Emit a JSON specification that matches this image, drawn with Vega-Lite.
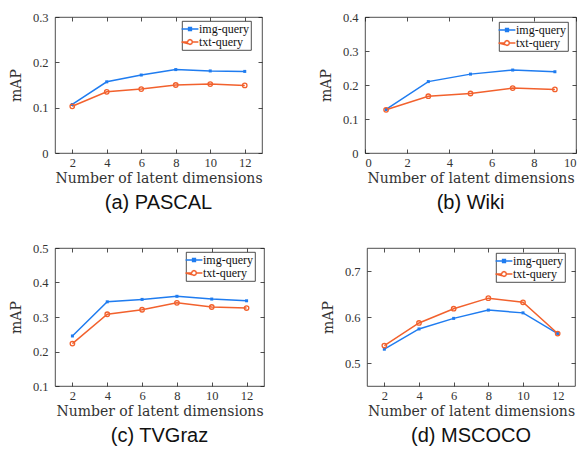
{
  "$schema": "https://vega.github.io/schema/vega-lite/v6.json",
  "background": "white",
  "padding": {"left": 8, "top": 10, "right": 2, "bottom": 2},
  "datasets": {
    "all": [
      {"panel": "a", "dim": 2, "query": "img-query", "map": 0.107},
      {"panel": "a", "dim": 4, "query": "img-query", "map": 0.157},
      {"panel": "a", "dim": 6, "query": "img-query", "map": 0.172},
      {"panel": "a", "dim": 8, "query": "img-query", "map": 0.184},
      {"panel": "a", "dim": 10, "query": "img-query", "map": 0.181},
      {"panel": "a", "dim": 12, "query": "img-query", "map": 0.180},
      {"panel": "a", "dim": 2, "query": "txt-query", "map": 0.103},
      {"panel": "a", "dim": 4, "query": "txt-query", "map": 0.135},
      {"panel": "a", "dim": 6, "query": "txt-query", "map": 0.141},
      {"panel": "a", "dim": 8, "query": "txt-query", "map": 0.150},
      {"panel": "a", "dim": 10, "query": "txt-query", "map": 0.152},
      {"panel": "a", "dim": 12, "query": "txt-query", "map": 0.149},
      {"panel": "b", "dim": 1, "query": "img-query", "map": 0.128},
      {"panel": "b", "dim": 3, "query": "img-query", "map": 0.210},
      {"panel": "b", "dim": 5, "query": "img-query", "map": 0.232},
      {"panel": "b", "dim": 7, "query": "img-query", "map": 0.244},
      {"panel": "b", "dim": 9, "query": "img-query", "map": 0.239},
      {"panel": "b", "dim": 1, "query": "txt-query", "map": 0.127},
      {"panel": "b", "dim": 3, "query": "txt-query", "map": 0.167},
      {"panel": "b", "dim": 5, "query": "txt-query", "map": 0.175},
      {"panel": "b", "dim": 7, "query": "txt-query", "map": 0.191},
      {"panel": "b", "dim": 9, "query": "txt-query", "map": 0.187},
      {"panel": "c", "dim": 2, "query": "img-query", "map": 0.245},
      {"panel": "c", "dim": 4, "query": "img-query", "map": 0.344},
      {"panel": "c", "dim": 6, "query": "img-query", "map": 0.351},
      {"panel": "c", "dim": 8, "query": "img-query", "map": 0.360},
      {"panel": "c", "dim": 10, "query": "img-query", "map": 0.352},
      {"panel": "c", "dim": 12, "query": "img-query", "map": 0.347},
      {"panel": "c", "dim": 2, "query": "txt-query", "map": 0.223},
      {"panel": "c", "dim": 4, "query": "txt-query", "map": 0.308},
      {"panel": "c", "dim": 6, "query": "txt-query", "map": 0.321},
      {"panel": "c", "dim": 8, "query": "txt-query", "map": 0.341},
      {"panel": "c", "dim": 10, "query": "txt-query", "map": 0.329},
      {"panel": "c", "dim": 12, "query": "txt-query", "map": 0.326},
      {"panel": "d", "dim": 2, "query": "img-query", "map": 0.530},
      {"panel": "d", "dim": 4, "query": "img-query", "map": 0.574},
      {"panel": "d", "dim": 6, "query": "img-query", "map": 0.597},
      {"panel": "d", "dim": 8, "query": "img-query", "map": 0.615},
      {"panel": "d", "dim": 10, "query": "img-query", "map": 0.609},
      {"panel": "d", "dim": 12, "query": "img-query", "map": 0.564},
      {"panel": "d", "dim": 2, "query": "txt-query", "map": 0.538},
      {"panel": "d", "dim": 4, "query": "txt-query", "map": 0.587},
      {"panel": "d", "dim": 6, "query": "txt-query", "map": 0.618},
      {"panel": "d", "dim": 8, "query": "txt-query", "map": 0.641},
      {"panel": "d", "dim": 10, "query": "txt-query", "map": 0.632},
      {"panel": "d", "dim": 12, "query": "txt-query", "map": 0.564}
    ]
  },
  "data": {"name": "all"},
  "spacing": 28,
  "vconcat": [
    {
      "spacing": 55,
      "resolve": {"scale": {"color": "independent", "x": "independent", "y": "independent"}, "legend": {"color": "independent"}},
      "hconcat": [
        {
          "width": 207, "height": 136,
          "title": {"text": "(a) PASCAL", "orient": "bottom"},
          "transform": [{"filter": "datum.panel == 'a'"}],
          "layer": [
            {"mark": {"type": "line", "strokeWidth": 1.5},
             "encoding": {
               "x": {"field": "dim", "type": "quantitative", "scale": {"domain": [1, 13], "nice": false}, "axis": {"values": [2, 4, 6, 8, 10, 12], "title": "Number of latent dimensions"}},
               "y": {"field": "map", "type": "quantitative", "scale": {"domain": [0, 0.3], "nice": false, "zero": false}, "axis": {"values": [0, 0.1, 0.2, 0.3], "format": ".1~f", "title": "mAP"}},
               "color": {"field": "query", "type": "nominal", "scale": {"domain": ["img-query", "txt-query"], "range": ["#1f7cf0", "#f2612d"]},
                         "legend": {"orient": "none", "legendX": 127, "legendY": 4, "symbolType": "square", "encode": {"symbols": {"update": {"shape": {"signal": "datum.value === 'img-query' ? 'M-2.1,0H2.1M-0.35,-0.35H0.35V0.35H-0.35Z' : 'M-2.1,0H-0.6L-0.42,-0.42L0,-0.6L0.42,-0.42L0.6,0L0.42,0.42L0,0.6L-0.42,0.42ZM0.6,0H2.1'"}}}}}}}},
            {"transform": [{"filter": "datum.query == 'img-query'"}],
             "mark": {"type": "point", "shape": "square", "filled": true, "size": 9, "opacity": 1, "color": "#1f7cf0"},
             "encoding": {
               "x": {"field": "dim", "type": "quantitative", "axis": {"orient": "top", "values": [2, 4, 6, 8, 10, 12], "labels": false, "title": null}},
               "y": {"field": "map", "type": "quantitative", "axis": {"orient": "right", "values": [0, 0.1, 0.2, 0.3], "labels": false, "title": null}}}},
            {"transform": [{"filter": "datum.query == 'txt-query'"}],
             "mark": {"type": "point", "shape": "circle", "filled": false, "size": 20, "strokeWidth": 1.3, "opacity": 1, "color": "#f2612d"},
             "encoding": {
               "x": {"field": "dim", "type": "quantitative", "axis": null},
               "y": {"field": "map", "type": "quantitative", "axis": null}}}
          ],
          "resolve": {"axis": {"x": "independent", "y": "independent"}}
        },
        {
          "width": 211, "height": 136,
          "title": {"text": "(b) Wiki", "orient": "bottom"},
          "transform": [{"filter": "datum.panel == 'b'"}],
          "layer": [
            {"mark": {"type": "line", "strokeWidth": 1.5},
             "encoding": {
               "x": {"field": "dim", "type": "quantitative", "scale": {"domain": [0, 10], "nice": false}, "axis": {"values": [0, 2, 4, 6, 8, 10], "title": "Number of latent dimensions"}},
               "y": {"field": "map", "type": "quantitative", "scale": {"domain": [0, 0.4], "nice": false, "zero": false}, "axis": {"values": [0, 0.1, 0.2, 0.3, 0.4], "format": ".1~f", "title": "mAP"}},
               "color": {"field": "query", "type": "nominal", "scale": {"domain": ["img-query", "txt-query"], "range": ["#1f7cf0", "#f2612d"]},
                         "legend": {"orient": "none", "legendX": 134, "legendY": 5, "symbolType": "square", "encode": {"symbols": {"update": {"shape": {"signal": "datum.value === 'img-query' ? 'M-2.1,0H2.1M-0.35,-0.35H0.35V0.35H-0.35Z' : 'M-2.1,0H-0.6L-0.42,-0.42L0,-0.6L0.42,-0.42L0.6,0L0.42,0.42L0,0.6L-0.42,0.42ZM0.6,0H2.1'"}}}}}}}},
            {"transform": [{"filter": "datum.query == 'img-query'"}],
             "mark": {"type": "point", "shape": "square", "filled": true, "size": 9, "opacity": 1, "color": "#1f7cf0"},
             "encoding": {
               "x": {"field": "dim", "type": "quantitative", "axis": {"orient": "top", "values": [0, 2, 4, 6, 8, 10], "labels": false, "title": null}},
               "y": {"field": "map", "type": "quantitative", "axis": {"orient": "right", "values": [0, 0.1, 0.2, 0.3, 0.4], "labels": false, "title": null}}}},
            {"transform": [{"filter": "datum.query == 'txt-query'"}],
             "mark": {"type": "point", "shape": "circle", "filled": false, "size": 20, "strokeWidth": 1.3, "opacity": 1, "color": "#f2612d"},
             "encoding": {
               "x": {"field": "dim", "type": "quantitative", "axis": null},
               "y": {"field": "map", "type": "quantitative", "axis": null}}}
          ],
          "resolve": {"axis": {"x": "independent", "y": "independent"}}
        }
      ]
    },
    {
      "spacing": 55,
      "resolve": {"scale": {"color": "independent", "x": "independent", "y": "independent"}, "legend": {"color": "independent"}},
      "hconcat": [
        {
          "width": 209, "height": 138,
          "title": {"text": "(c) TVGraz", "orient": "bottom"},
          "transform": [{"filter": "datum.panel == 'c'"}],
          "layer": [
            {"mark": {"type": "line", "strokeWidth": 1.5},
             "encoding": {
               "x": {"field": "dim", "type": "quantitative", "scale": {"domain": [1, 13], "nice": false}, "axis": {"values": [2, 4, 6, 8, 10, 12], "title": "Number of latent dimensions"}},
               "y": {"field": "map", "type": "quantitative", "scale": {"domain": [0.1, 0.5], "nice": false, "zero": false}, "axis": {"values": [0.1, 0.2, 0.3, 0.4, 0.5], "format": ".1~f", "title": "mAP"}},
               "color": {"field": "query", "type": "nominal", "scale": {"domain": ["img-query", "txt-query"], "range": ["#1f7cf0", "#f2612d"]},
                         "legend": {"orient": "none", "legendX": 131, "legendY": 4, "symbolType": "square", "encode": {"symbols": {"update": {"shape": {"signal": "datum.value === 'img-query' ? 'M-2.1,0H2.1M-0.35,-0.35H0.35V0.35H-0.35Z' : 'M-2.1,0H-0.6L-0.42,-0.42L0,-0.6L0.42,-0.42L0.6,0L0.42,0.42L0,0.6L-0.42,0.42ZM0.6,0H2.1'"}}}}}}}},
            {"transform": [{"filter": "datum.query == 'img-query'"}],
             "mark": {"type": "point", "shape": "square", "filled": true, "size": 9, "opacity": 1, "color": "#1f7cf0"},
             "encoding": {
               "x": {"field": "dim", "type": "quantitative", "axis": {"orient": "top", "values": [2, 4, 6, 8, 10, 12], "labels": false, "title": null}},
               "y": {"field": "map", "type": "quantitative", "axis": {"orient": "right", "values": [0.1, 0.2, 0.3, 0.4, 0.5], "labels": false, "title": null}}}},
            {"transform": [{"filter": "datum.query == 'txt-query'"}],
             "mark": {"type": "point", "shape": "circle", "filled": false, "size": 20, "strokeWidth": 1.3, "opacity": 1, "color": "#f2612d"},
             "encoding": {
               "x": {"field": "dim", "type": "quantitative", "axis": null},
               "y": {"field": "map", "type": "quantitative", "axis": null}}}
          ],
          "resolve": {"axis": {"x": "independent", "y": "independent"}}
        },
        {
          "width": 208, "height": 138,
          "title": {"text": "(d) MSCOCO", "orient": "bottom"},
          "transform": [{"filter": "datum.panel == 'd'"}],
          "layer": [
            {"mark": {"type": "line", "strokeWidth": 1.5},
             "encoding": {
               "x": {"field": "dim", "type": "quantitative", "scale": {"domain": [1, 13], "nice": false}, "axis": {"values": [2, 4, 6, 8, 10, 12], "title": "Number of latent dimensions"}},
               "y": {"field": "map", "type": "quantitative", "scale": {"domain": [0.45, 0.75], "nice": false, "zero": false}, "axis": {"values": [0.5, 0.6, 0.7], "format": ".1~f", "title": "mAP"}},
               "color": {"field": "query", "type": "nominal", "scale": {"domain": ["img-query", "txt-query"], "range": ["#1f7cf0", "#f2612d"]},
                         "legend": {"orient": "none", "legendX": 129, "legendY": 5, "symbolType": "square", "encode": {"symbols": {"update": {"shape": {"signal": "datum.value === 'img-query' ? 'M-2.1,0H2.1M-0.35,-0.35H0.35V0.35H-0.35Z' : 'M-2.1,0H-0.6L-0.42,-0.42L0,-0.6L0.42,-0.42L0.6,0L0.42,0.42L0,0.6L-0.42,0.42ZM0.6,0H2.1'"}}}}}}}},
            {"transform": [{"filter": "datum.query == 'img-query'"}],
             "mark": {"type": "point", "shape": "square", "filled": true, "size": 9, "opacity": 1, "color": "#1f7cf0"},
             "encoding": {
               "x": {"field": "dim", "type": "quantitative", "axis": {"orient": "top", "values": [2, 4, 6, 8, 10, 12], "labels": false, "title": null}},
               "y": {"field": "map", "type": "quantitative", "axis": {"orient": "right", "values": [0.5, 0.6, 0.7], "labels": false, "title": null}}}},
            {"transform": [{"filter": "datum.query == 'txt-query'"}],
             "mark": {"type": "point", "shape": "circle", "filled": false, "size": 20, "strokeWidth": 1.3, "opacity": 1, "color": "#f2612d"},
             "encoding": {
               "x": {"field": "dim", "type": "quantitative", "axis": null},
               "y": {"field": "map", "type": "quantitative", "axis": null}}}
          ],
          "resolve": {"axis": {"x": "independent", "y": "independent"}}
        }
      ]
    }
  ],
  "resolve": {"scale": {"color": "independent", "x": "independent", "y": "independent"}, "legend": {"color": "independent"}},
  "config": {
    "view": {"stroke": "#222", "strokeWidth": 0.8},
    "axis": {"grid": false, "domain": false, "tickColor": "#222", "tickSize": -4, "tickWidth": 0.8,
             "labelFont": "Liberation Serif", "labelFontSize": 12.5, "labelColor": "#333",
             "titleFont": "DejaVu Serif", "titleFontSize": 14, "titleFontWeight": "normal", "titleColor": "#333"},
    "axisX": {"labelPadding": 7, "titlePadding": 3},
    "axisY": {"labelPadding": 11, "titlePadding": 9},
    "title": {"font": "Liberation Sans", "fontSize": 20, "fontWeight": "normal", "color": "#111", "anchor": "middle", "offset": 7},
    "legend": {"title": null, "strokeColor": "#222", "strokeWidth": 0.8, "fillColor": "white",
               "padding": 2, "labelFont": "Liberation Serif", "labelFontSize": 12, "labelColor": "#111", "symbolSize": 64,
               "symbolStrokeWidth": 1.5, "rowPadding": 1, "labelOffset": 3, "symbolFillColor": "transparent", "symbolOpacity": 1}
  }
}
